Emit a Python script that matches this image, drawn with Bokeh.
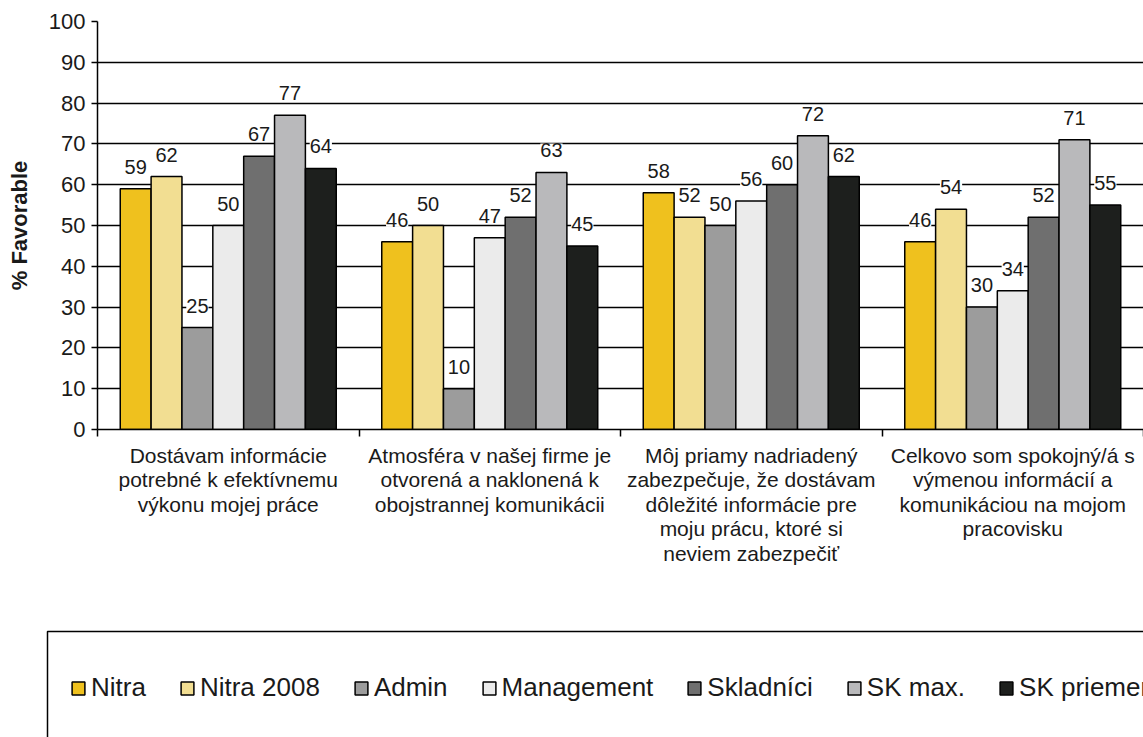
from bokeh.plotting import figure
from bokeh.models import (Range1d, FixedTicker, ColumnDataSource, LabelSet,
                          Legend, LegendItem)
from bokeh.core.properties import value
from bokeh.transform import dodge
from bokeh.layouts import column
from bokeh.embed import file_html
from bokeh.resources import INLINE

# ---------------- data ----------------
categories = [
    "Dostávam informácie\npotrebné k efektívnemu\nvýkonu mojej práce",
    "Atmosféra v našej firme je\notvorená a naklonená k\nobojstrannej komunikácii",
    "Môj priamy nadriadený\nzabezpečuje, že dostávam\ndôležité informácie pre\nmoju prácu, ktoré si\nneviem zabezpečiť",
    "Celkovo som spokojný/á s\nvýmenou informácií a\nkomunikáciou na mojom\npracovisku",
]
series_names = ["Nitra", "Nitra 2008", "Admin", "Management", "Skladníci", "SK max.", "SK priemer"]
nitra = [59, 46, 58, 46]
nitra_2008 = [62, 50, 52, 54]
admin = [25, 10, 50, 30]
management = [50, 47, 56, 34]
skladnici = [67, 52, 60, 52]
sk_max = [77, 63, 72, 71]
sk_priemer = [64, 45, 62, 55]
y_ticks = [0, 10, 20, 30, 40, 50, 60, 70, 80, 90, 100]
y_title = "% Favorable"

series_values = [nitra, nitra_2008, admin, management, skladnici, sk_max, sk_priemer]
colors = ["#EFC11E", "#F2DE92", "#9C9C9C", "#EBEBEB", "#6F6F6F", "#B9B9BB", "#1D1F1D"]

FONT = "Liberation Sans"
TXT = "#1a1a1a"

n = len(categories)
centers = [i + 0.5 for i in range(n)]
data = {"xc": centers}
keys = []
for i, vals in enumerate(series_values):
    k = f"s{i}"
    keys.append(k)
    data[k] = vals
    data[k + "_t"] = [str(v) for v in vals]
source = ColumnDataSource(data)

# ---------------- chart ----------------
p = figure(width=1143, height=600, x_range=Range1d(0, 4.0), y_range=Range1d(0, 100),
           output_backend="svg", toolbar_location=None, frame_align=False,
           min_border_left=97, min_border_right=0, min_border_top=21, min_border_bottom=171)
p.outline_line_color = None
p.background_fill_color = "white"
p.border_fill_color = "white"

bw = 0.118
for i, (name, k, c) in enumerate(zip(series_names, keys, colors)):
    off = (i - 3) * bw
    p.vbar(x=dodge("xc", off), top=k, width=bw, source=source,
           fill_color=c, line_color="black", line_width=1.5)
    lbl = LabelSet(x=dodge("xc", off), y=k, text=k + "_t", source=source,
                   text_align="center", text_baseline="middle", y_offset=22,
                   text_font=value(FONT), text_font_size="20px", text_color=TXT,
                   background_fill_color="white")
    p.add_layout(lbl)

# y axis
p.yaxis.ticker = FixedTicker(ticks=y_ticks)
p.yaxis.axis_label = y_title
p.yaxis.axis_label_text_font = FONT
p.yaxis.axis_label_text_font_size = "22px"
p.yaxis.axis_label_text_font_style = "bold"
p.yaxis.axis_label_text_color = TXT
p.yaxis.axis_label_standoff = 14
p.yaxis.major_label_text_font = FONT
p.yaxis.major_label_text_font_size = "22px"
p.yaxis.major_label_text_color = TXT
p.yaxis.major_label_standoff = 6
p.yaxis.major_tick_out = 6
p.yaxis.major_tick_in = 0
p.yaxis.minor_tick_line_color = None
p.yaxis.axis_line_color = "black"
p.yaxis.axis_line_width = 1.5
p.yaxis.major_tick_line_color = "black"
p.yaxis.major_tick_line_width = 1.5

# x axis
p.xaxis.ticker = FixedTicker(ticks=centers, minor_ticks=[0, 1, 2, 3, 4])
p.xaxis.major_label_overrides = {c: t for c, t in zip(centers, categories)}
p.xaxis.major_tick_out = 0
p.xaxis.major_tick_in = 0
p.xaxis.major_tick_line_color = None
p.xaxis.minor_tick_out = 7
p.xaxis.minor_tick_in = 0
p.xaxis.minor_tick_line_color = "black"
p.xaxis.minor_tick_line_width = 1.5
p.xaxis.axis_line_color = "black"
p.xaxis.axis_line_width = 1.5
p.xaxis.major_label_text_font = FONT
p.xaxis.major_label_text_font_size = "21px"
p.xaxis.major_label_text_line_height = 1.07
p.xaxis.major_label_text_color = TXT
p.xaxis.major_label_standoff = 7

p.xgrid.visible = False
p.ygrid.ticker = FixedTicker(ticks=y_ticks)
p.ygrid.grid_line_color = "black"
p.ygrid.grid_line_width = 1.5

# ---------------- legend panel ----------------
p2 = figure(width=1143, height=137, x_range=Range1d(0, 1143), y_range=Range1d(0, 137),
            output_backend="svg", toolbar_location=None, frame_align=False,
            x_axis_location=None, y_axis_location=None,
            min_border=0, min_border_left=0, min_border_right=0,
            min_border_top=0, min_border_bottom=0)
p2.outline_line_color = None
p2.grid.visible = False
p2.background_fill_color = "white"
p2.border_fill_color = "white"
# legend frame box (its right and bottom edges lie outside the visible area)
p2.quad(left=[47], right=[1500], bottom=[-100], top=[106],
        fill_color=None, line_color="black", line_width=1.5)

items = []
for name, c in zip(series_names, colors):
    r = p2.vbar(x=[float("nan")], top=[float("nan")], width=1,
                fill_color=c, line_color="black", line_width=1.5)
    items.append(LegendItem(label=name, renderers=[r]))

legend = Legend(items=items, location=(70, 34), orientation="horizontal",
                glyph_width=16, glyph_height=16, label_standoff=5, spacing=33,
                label_text_font=FONT, label_text_font_size="26px",
                label_text_color=TXT,
                border_line_color=None, background_fill_alpha=0,
                padding=0, margin=0)
p2.add_layout(legend)

layout = column(p, p2, spacing=0)
open("out.html", "w").write(file_html(layout, INLINE))
